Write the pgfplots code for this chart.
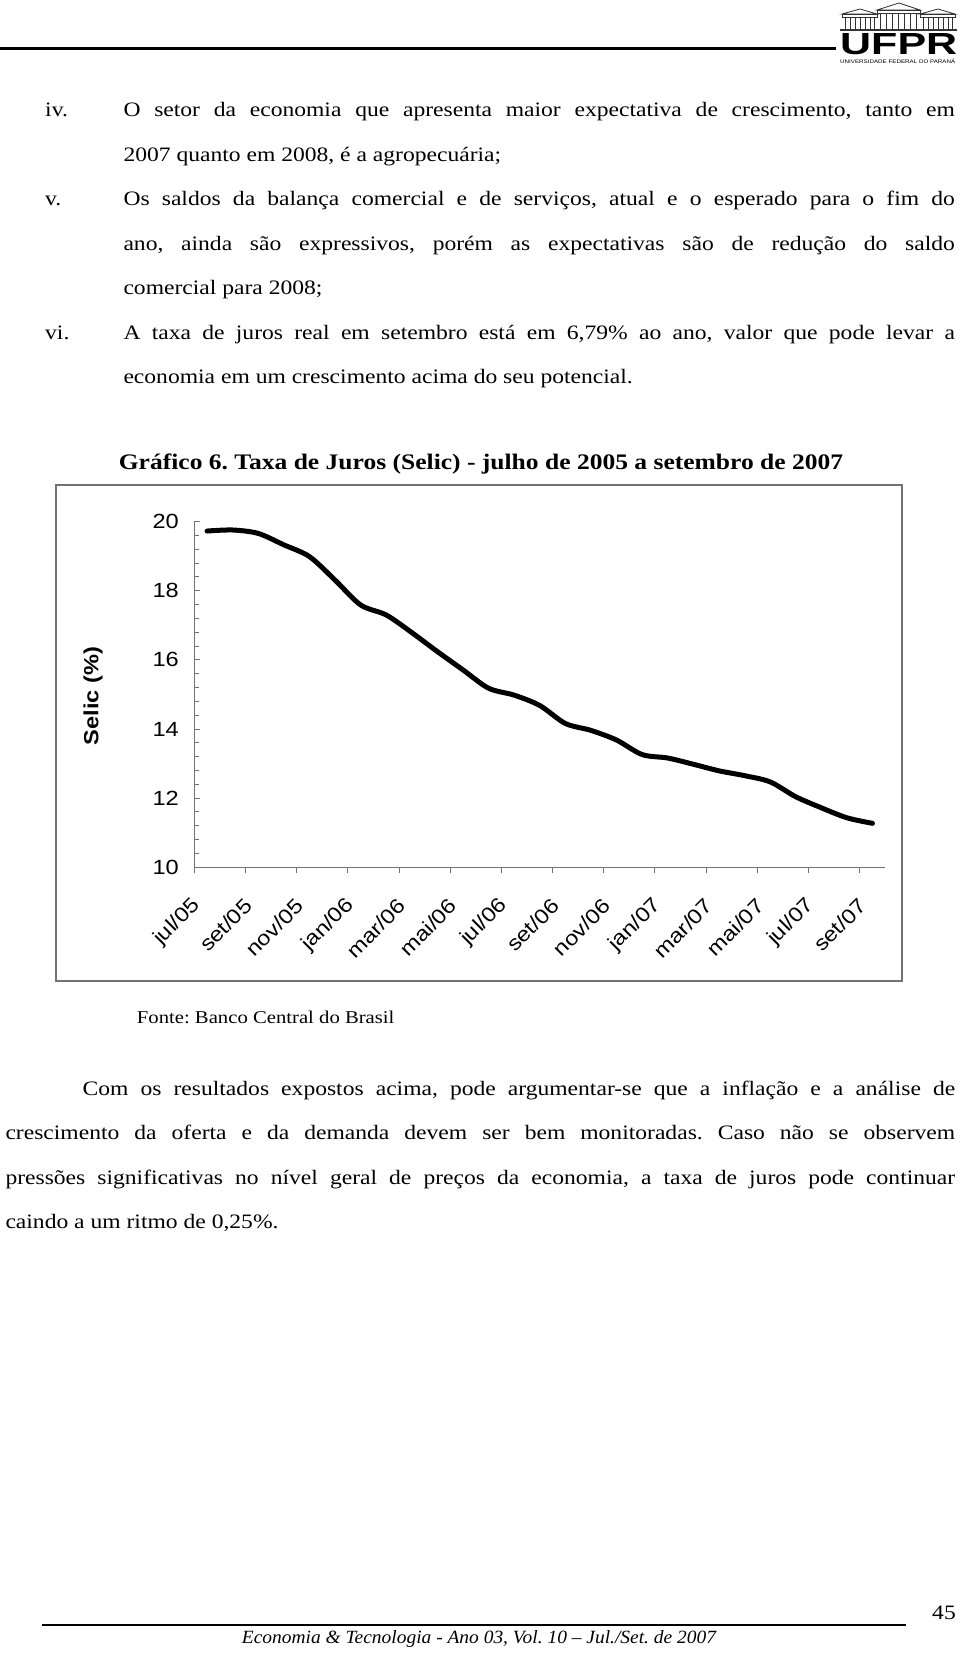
\documentclass[border=0pt]{standalone}
\usepackage{pgfplots}
\pgfplotsset{compat=1.18}
\usepackage{graphicx}
\usepackage{fontspec}
\setmainfont[FakeStretch=1.15,Ligatures=TeX]{Liberation Serif}
\newfontfamily\footfont[FakeStretch=1.04,Ligatures=TeX]{Liberation Serif}
\newfontfamily\arial[FakeStretch=1.15]{Liberation Sans}
\newfontfamily\logofont{Liberation Sans}
\newcommand{\bodyfont}{\fontsize{20.5}{24}\selectfont}
\newcommand{\jl}[4]{\node[anchor=base west,inner sep=0pt,font=\bodyfont] at (#1,-#2) {\makebox[#3pt][s]{#4}};}
\newcommand{\pl}[3]{\node[anchor=base west,inner sep=0pt,font=\bodyfont] at (#1,-#2) {#3};}
\frenchspacing
\begin{document}
\begin{tikzpicture}[x=1pt,y=1pt]
\useasboundingbox (0,0) rectangle (960,-1657);
\fill[white] (0,0) rectangle (960,-1657);
% header rule and logo
\draw[line width=3pt] (0,-48.5) -- (836,-48.5);
\begin{scope}[line width=0.8pt, draw=black!80]
  \draw (842,-14) -- (860,-9) -- (877,-14) -- cycle;
  \draw (842,-14) rectangle (877,-17);
  \foreach \xx in {845,850,855,860,865,870,874} {\draw (\xx,-17) -- (\xx,-29);}
  \draw (877,-10) -- (899,-3) -- (920,-10) -- cycle;
  \draw (877,-10) rectangle (920,-13);
  \foreach \xx in {880,886,892,898,904,910,916} {\draw (\xx,-13) -- (\xx,-29);}
  \draw (920,-14) -- (938,-9) -- (955,-14) -- cycle;
  \draw (920,-14) rectangle (955,-17);
  \foreach \xx in {923,928,933,938,943,948,952} {\draw (\xx,-17) -- (\xx,-29);}
  \draw[line width=1.5pt] (840,-30) -- (957,-30);
\end{scope}
\node[anchor=south west,inner sep=0pt] at (840,-55) {\resizebox{117pt}{21pt}{\logofont\bfseries UFPR}};
\node[anchor=base west,inner sep=0pt] at (840,-63.5) {\resizebox{115pt}{4.5pt}{\logofont UNIVERSIDADE FEDERAL DO PARAN\'A}};
% list items
\pl{45}{116.7}{iv.}
\jl{123.3}{116.7}{831.4}{O setor da economia que apresenta maior expectativa de crescimento, tanto em}
\pl{123.3}{161.2}{2007 quanto em 2008, é a agropecuária;}
\pl{45}{205.7}{v.}
\jl{123.3}{205.7}{831.4}{Os saldos da balança comercial e de serviços, atual e o esperado para o fim do}
\jl{123.3}{250.2}{831.4}{ano, ainda são expressivos, porém as expectativas são de redução do saldo}
\pl{123.3}{294.7}{comercial para 2008;}
\pl{45}{339.2}{vi.}
\jl{123.3}{339.2}{831.4}{A taxa de juros real em setembro está em 6,79\% ao ano, valor que pode levar a}
\pl{123.3}{383.7}{economia em um crescimento acima do seu potencial.}
% chart title
\node[anchor=base,inner sep=0pt,font=\fontsize{22.2}{24}\selectfont\bfseries] at (481,-469) {Gráfico 6. Taxa de Juros (Selic) - julho de 2005 a setembro de 2007};
% chart frame
\draw[black!55, line width=1.5pt] (56,-485) rectangle (902,-981);
\begin{axis}[
  at={(194.3pt,-867.2pt)}, anchor=south west,
  scale only axis, width=691pt, height=345.5pt,
  xmin=0, xmax=27, ymin=10, ymax=20,
  axis lines*=left,
  axis line style={draw=black!55, line width=1.2pt},
  xtick={0,2,...,26},
  xticklabels={jul/05,set/05,nov/05,jan/06,mar/06,mai/06,jul/06,set/06,nov/06,jan/07,mar/07,mai/07,jul/07,set/07},
  ytick={10,12,...,20},
  minor y tick num=4,
  xtick align=outside, ytick align=inside,
  major tick length=6pt, minor tick length=5pt,
  tick style={draw=black!55, line width=1pt},
  /pgf/number format/assume math mode=true,
  ticklabel style={font=\arial\fontsize{20.5}{24}\selectfont},
  yticklabel style={xshift=-12pt},
  xticklabel style={xshift=3pt, yshift=-29pt, rotate=45, anchor=east, inner sep=0pt},
  ylabel={Selic (\%)},
  ylabel style={font=\arial\bfseries\fontsize{20.5}{24}\selectfont, at={(axis description cs:-0.1466,0.495)}, anchor=center},
  clip=false,
]
\addplot[black, line width=5pt, smooth, tension=0.5, line cap=round] coordinates {
(0.5,19.73) (1.5,19.76) (2.5,19.66) (3.5,19.33) (4.5,18.99) (5.5,18.31)
(6.5,17.59) (7.5,17.30) (8.5,16.79) (9.5,16.24) (10.5,15.71) (11.5,15.18)
(12.5,14.98) (13.5,14.68) (14.5,14.16) (15.5,13.96) (16.5,13.68) (17.5,13.26)
(18.5,13.16) (19.5,12.98) (20.5,12.79) (21.5,12.65) (22.5,12.47) (23.5,12.04)
(24.5,11.72) (25.5,11.43) (26.5,11.27)
};
\end{axis}
% source
\node[anchor=base west,inner sep=0pt,font=\fontsize{18}{20}\selectfont] at (136.7,-1023.3) {Fonte: Banco Central do Brasil};
% paragraph
\jl{82.5}{1095}{872.5}{Com os resultados expostos acima, pode argumentar-se que a inflação e a análise de}
\jl{5.3}{1139.5}{949.7}{crescimento da oferta e da demanda devem ser bem monitoradas. Caso não se observem}
\jl{5.3}{1184}{949.7}{pressões significativas no nível geral de preços da economia, a taxa de juros pode continuar}
\pl{5.3}{1228.5}{caindo a um ritmo de 0,25\%.}
% footer
\node[anchor=base,inner sep=0pt,font=\fontsize{20.5}{24}\selectfont] at (944,-1619) {45};
\draw[line width=1.5pt] (42,-1625) -- (906,-1625);
\node[anchor=base,inner sep=0pt,font=\footfont\fontsize{18.7}{22}\selectfont\itshape] at (479,-1643) {Economia \& Tecnologia - Ano 03, Vol. 10 – Jul./Set. de 2007};
\end{tikzpicture}
\end{document}
